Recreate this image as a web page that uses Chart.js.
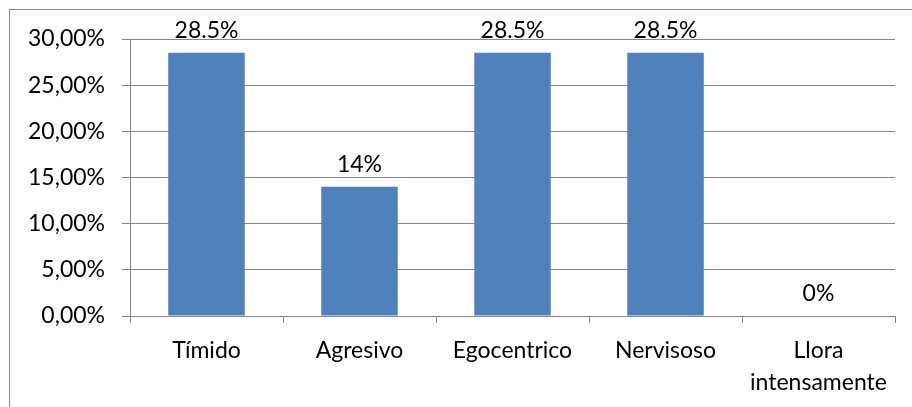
<!DOCTYPE html>
<html>
<head>
<meta charset="utf-8">
<script src="https://cdn.jsdelivr.net/npm/chart.js@4.4.1/dist/chart.umd.min.js"></script>
<style>
  html, body { margin: 0; padding: 0; background: #fff; }
  #wrap { position: relative; width: 912px; height: 407px; overflow: hidden; }
  #frame {
    position: absolute; left: 9px; top: 9px; width: 920px; height: 420px;
    border-left: 1px solid #8a8a8a; border-top: 1px solid #8a8a8a;
  }
  canvas { position: absolute; left: 0; top: 0; }
</style>
</head>
<body>
<div id="wrap">
  <div id="frame"></div>
  <canvas id="chart" width="912" height="407"></canvas>
</div>
<script>
// categories and values (percent)
const categories = ['Tímido', 'Agresivo', 'Egocentrico', 'Nervisoso', ['Llora', 'intensamente']];
const values = [28.5, 14, 28.5, 28.5, 0];
const valueLabels = ['28.5%', '14%', '28.5%', '28.5%', '0%'];
const yTicks = [0, 5, 10, 15, 20, 25, 30];

const gridColor = '#868686';
const barColor = '#4F81BD';
const fontFamily = 'Lato, "Liberation Sans", sans-serif';

// Data labels drawn above each bar
const barLabels = {
  id: 'barLabels',
  afterDatasetsDraw(chart) {
    const ctx = chart.ctx;
    const meta = chart.getDatasetMeta(0);
    ctx.save();
    ctx.font = '23px ' + fontFamily;
    ctx.fillStyle = '#000';
    ctx.textAlign = 'center';
    ctx.textBaseline = 'middle';
    meta.data.forEach((bar, i) => {
      ctx.fillText(valueLabels[i], bar.x, bar.y - 22);
    });
    ctx.restore();
  }
};

Chart.defaults.font.family = fontFamily;
Chart.defaults.font.size = 23;
Chart.defaults.color = '#000';

const ctx = document.getElementById('chart').getContext('2d');
const chart = new Chart(ctx, {
  type: 'bar',
  data: {
    labels: categories,
    datasets: [{
      data: values,
      backgroundColor: barColor,
      borderWidth: 0,
      categoryPercentage: 1,
      barPercentage: 0.5
    }]
  },
  options: {
    responsive: false,
    animation: false,
    layout: { padding: { top: 39, right: 17, left: 0, bottom: 0 } },
    plugins: {
      legend: { display: false },
      tooltip: { enabled: false }
    },
    scales: {
      x: {
        grid: {
          offset: true,
          drawOnChartArea: false,
          drawTicks: true,
          tickLength: 7,
          color: gridColor
        },
        border: { display: true, color: gridColor, width: 1 },
        ticks: {
          padding: 11,
          maxRotation: 0,
          autoSkip: false,
          font: { size: 23, lineHeight: 1.4 }
        },
        afterFit(scale) { scale.height = 91; }
      },
      y: {
        min: 0,
        max: 30,
        afterBuildTicks(scale) { scale.ticks = yTicks.map(v => ({ value: v })); },
        grid: { color: gridColor, tickLength: 8, lineWidth: 1 },
        border: { display: true, color: gridColor, width: 1 },
        ticks: {
          padding: 17,
          callback: v => v.toFixed(2).replace('.', ',') + '%'
        },
        afterFit(scale) { scale.width = 130; }
      }
    }
  },
  plugins: [barLabels]
});
</script>
</body>
</html>
